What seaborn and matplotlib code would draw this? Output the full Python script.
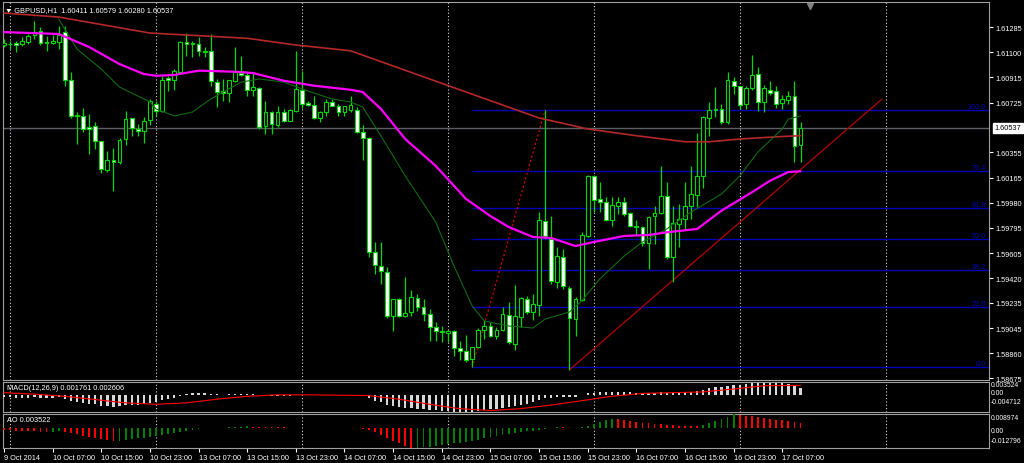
import numpy as np
import seaborn as sns
import matplotlib.pyplot as plt

# ================= data (GBPUSD H1) =================
opens = [1.61154, 1.61161, 1.61169, 1.61161, 1.61178, 1.61228, 1.61256, 1.61178, 1.61166, 1.61178,
         1.61248, 1.60896, 1.60623, 1.60628, 1.60541, 1.60549, 1.60439, 1.60226, 1.60298, 1.60281,
         1.60454, 1.60611, 1.60529, 1.60512, 1.60594, 1.60712, 1.60660, 1.60906, 1.60896, 1.60955,
         1.61174, 1.61159, 1.61161, 1.61107, 1.61111, 1.60881, 1.60811, 1.60797, 1.60884, 1.60945,
         1.60930, 1.60821, 1.60834, 1.60549, 1.60653, 1.60561, 1.60653, 1.60591, 1.60665, 1.60821,
         1.60720, 1.60707, 1.60611, 1.60653, 1.60732, 1.60702, 1.60657, 1.60670, 1.60672, 1.60509,
         1.60460, 1.59616, 1.59512, 1.59467, 1.59135, 1.59264, 1.59140, 1.59170, 1.59269, 1.59202,
         1.59152, 1.59053, 1.59028, 1.59011, 1.59028, 1.58897, 1.58879, 1.58818, 1.58905, 1.59036,
         1.59065, 1.58991, 1.59036, 1.59145, 1.58929, 1.59128, 1.59264, 1.59165, 1.59219, 1.59846,
         1.59710, 1.59393, 1.59574, 1.59348, 1.59115, 1.59259, 1.59735, 1.60181, 1.60008, 1.59988,
         1.59854, 1.59958, 1.59983, 1.59901, 1.59809, 1.59797, 1.59681, 1.59879, 1.59904, 1.60028,
         1.59574, 1.59822, 1.59859, 1.59958, 1.60040, 1.60177, 1.60611, 1.60670, 1.60678, 1.60583,
         1.60888, 1.60846, 1.60715, 1.60832, 1.60938, 1.60732, 1.60821, 1.60809, 1.60722, 1.60747,
         1.60772, 1.60411]
highs = [1.61198, 1.61186, 1.61186, 1.61211, 1.61236, 1.61335, 1.61285, 1.61223, 1.61228, 1.61297,
         1.61297, 1.60955, 1.60653, 1.60683, 1.60640, 1.60583, 1.60439, 1.60367, 1.60385, 1.60460,
         1.60660, 1.60613, 1.60566, 1.60616, 1.60752, 1.60739, 1.60921, 1.60925, 1.60975, 1.61186,
         1.61243, 1.61186, 1.61211, 1.61137, 1.61236, 1.60901, 1.60901, 1.60893, 1.61141, 1.61074,
         1.60951, 1.60955, 1.60839, 1.60739, 1.60665, 1.60698, 1.60678, 1.60678, 1.61111, 1.60963,
         1.60739, 1.60777, 1.60665, 1.60752, 1.60752, 1.60715, 1.60702, 1.60777, 1.60690, 1.60559,
         1.60467, 1.59686, 1.59686, 1.59500, 1.59264, 1.59269, 1.59425, 1.59333, 1.59301, 1.59264,
         1.59190, 1.59095, 1.59065, 1.59036, 1.59036, 1.58954, 1.58996, 1.58905, 1.59046, 1.59110,
         1.59090, 1.59053, 1.59202, 1.59239, 1.59368, 1.59277, 1.59284, 1.59301, 1.59909, 1.60672,
         1.59879, 1.59649, 1.59636, 1.59363, 1.59277, 1.59760, 1.60189, 1.60187, 1.60137, 1.60021,
         1.60021, 1.60021, 1.60021, 1.59913, 1.59854, 1.59809, 1.59884, 1.59958, 1.60251, 1.60132,
         1.59958, 1.59971, 1.60132, 1.60256, 1.60499, 1.60628, 1.60732, 1.60839, 1.60715, 1.60951,
         1.60913, 1.60851, 1.60851, 1.61079, 1.60988, 1.60856, 1.60888, 1.60851, 1.60782, 1.60814,
         1.60888, 1.60579]
lows = [1.61137, 1.61124, 1.61099, 1.61149, 1.61161, 1.61198, 1.61154, 1.61111, 1.61161, 1.61124,
        1.60851, 1.60608, 1.60415, 1.60504, 1.60343, 1.60380, 1.60201, 1.60207, 1.60065, 1.60268,
        1.60410, 1.60475, 1.60479, 1.60425, 1.60559, 1.60628, 1.60653, 1.60814, 1.60821, 1.60951,
        1.61074, 1.61062, 1.61074, 1.61062, 1.60851, 1.60690, 1.60739, 1.60732, 1.60876, 1.60921,
        1.60772, 1.60772, 1.60529, 1.60492, 1.60492, 1.60541, 1.60583, 1.60586, 1.60653, 1.60683,
        1.60702, 1.60603, 1.60583, 1.60628, 1.60698, 1.60628, 1.60623, 1.60653, 1.60499, 1.60300,
        1.59574, 1.59450, 1.59376, 1.59120, 1.59028, 1.59128, 1.59128, 1.59140, 1.59177, 1.59103,
        1.58954, 1.58954, 1.58946, 1.58942, 1.58842, 1.58812, 1.58798, 1.58755, 1.58897, 1.58966,
        1.58979, 1.58966, 1.59028, 1.58929, 1.58887, 1.59053, 1.59152, 1.59110, 1.59135, 1.59710,
        1.59376, 1.59344, 1.59338, 1.58736, 1.58991, 1.59251, 1.59723, 1.59914, 1.59914, 1.59846,
        1.59809, 1.59896, 1.59884, 1.59797, 1.59740, 1.59661, 1.59487, 1.59673, 1.59896, 1.59562,
        1.59393, 1.59649, 1.59785, 1.59859, 1.59946, 1.60087, 1.60479, 1.60616, 1.60566, 1.60566,
        1.60789, 1.60678, 1.60678, 1.60821, 1.60665, 1.60658, 1.60782, 1.60683, 1.60678, 1.60715,
        1.60281, 1.60280]
closes = [1.61169, 1.61158, 1.61154, 1.61186, 1.61223, 1.61253, 1.61169, 1.61169, 1.61186, 1.61228,
          1.60896, 1.60628, 1.60635, 1.60529, 1.60529, 1.60442, 1.60231, 1.60298, 1.60281, 1.60449,
          1.60603, 1.60534, 1.60514, 1.60591, 1.60739, 1.60665, 1.60893, 1.60896, 1.60958, 1.61174,
          1.61163, 1.61169, 1.61107, 1.61099, 1.60884, 1.60806, 1.60797, 1.60893, 1.60955, 1.60930,
          1.60821, 1.60839, 1.60541, 1.60653, 1.60566, 1.60653, 1.60591, 1.60672, 1.60826, 1.60715,
          1.60707, 1.60611, 1.60653, 1.60732, 1.60702, 1.60653, 1.60698, 1.60707, 1.60504, 1.60460,
          1.59616, 1.59519, 1.59474, 1.59140, 1.59264, 1.59140, 1.59160, 1.59277, 1.59202, 1.59152,
          1.59053, 1.59023, 1.59016, 1.59028, 1.58897, 1.58877, 1.58812, 1.58905, 1.59036, 1.59065,
          1.58991, 1.59036, 1.59150, 1.58942, 1.59135, 1.59269, 1.59165, 1.59225, 1.59854, 1.59735,
          1.59400, 1.59582, 1.59358, 1.59120, 1.59264, 1.59740, 1.60177, 1.60003, 1.59988, 1.59854,
          1.59963, 1.59983, 1.59896, 1.59809, 1.59797, 1.59681, 1.59872, 1.59904, 1.60028, 1.59574,
          1.59827, 1.59859, 1.59958, 1.60045, 1.60181, 1.60616, 1.60670, 1.60678, 1.60583, 1.60896,
          1.60846, 1.60710, 1.60832, 1.60931, 1.60732, 1.60832, 1.60794, 1.60715, 1.60752, 1.60772,
          1.60400, 1.60537]

# moving averages, read at some bars
ma_red_bar = [0, 9, 24, 40, 48, 57, 70, 76, 88, 96, 104, 112, 116, 121, 127, 131]
ma_red = [1.61392, 1.61362, 1.61243, 1.61204, 1.61154, 1.61111, 1.60901, 1.60804, 1.60611, 1.60529,
          1.60479, 1.60434, 1.60434, 1.60454, 1.60471, 1.60479]
ma_mag_bar = [0, 9, 14, 19, 23, 25, 28, 32, 38, 41, 46, 51, 57, 59, 62, 66, 71, 76, 80, 83, 87, 90,
              94, 97, 102, 106, 109, 114, 118, 123, 126, 129, 131]
ma_mag = [1.61250, 1.61236, 1.61139, 1.61012, 1.60938, 1.60925, 1.60931, 1.60963, 1.60955, 1.60945,
          1.60888, 1.60851, 1.60821, 1.60804, 1.60678, 1.60454, 1.60254, 1.60008, 1.59881, 1.59800,
          1.59725, 1.59718, 1.59658, 1.59688, 1.59733, 1.59740, 1.59760, 1.59785, 1.59921, 1.60058,
          1.60144, 1.60209, 1.60214]
ma_grn_bar = [9, 12, 16, 19, 24, 25, 28, 31, 34, 39, 42, 46, 50, 54, 57, 59, 62, 66, 71, 74, 77, 79,
              83, 87, 89, 93, 95, 98, 102, 105, 109, 113, 118, 121, 124, 128, 129, 131]
ma_grn = [1.61347, 1.61124, 1.60975, 1.60841, 1.60730, 1.60678, 1.60626, 1.60655, 1.60752, 1.60878,
          1.60901, 1.60878, 1.60811, 1.60752, 1.60730, 1.60692, 1.60477, 1.60179, 1.59837, 1.59510,
          1.59212, 1.59100, 1.59063, 1.59048, 1.59115, 1.59167, 1.59249, 1.59413, 1.59584, 1.59688,
          1.59785, 1.59911, 1.60045, 1.60179, 1.60358, 1.60529, 1.60603, 1.60626]

# MACD(12,26,9): main line drawn as histogram, signal as line
macd_main = [-0.0006, -0.0007, -0.0008, -0.0008, -0.0008, -0.0007, -0.0008, -0.0008, -0.0008, -0.0007,
             -0.0011, -0.0016, -0.0019, -0.0022, -0.0024, -0.0026, -0.0030, -0.0031, -0.0033, -0.0032,
             -0.0029, -0.0028, -0.0027, -0.0025, -0.0022, -0.0020, -0.0015, -0.0012, -0.0008, -0.0002,
             0.0002, 0.0004, 0.0005, 0.0005, 0.0003, 0.0001, 0.0000, 0.0001, 0.0002, 0.0003,
             0.0002, 0.0002, 0.0000, -0.0001, -0.0002, -0.0002, -0.0002, -0.0002, 0.0000, 0.0000,
             0.0000, -0.0001, -0.0001, -0.0001, -0.0001, -0.0001, -0.0001, -0.0001, -0.0002, -0.0004,
             -0.0010, -0.0016, -0.0021, -0.0027, -0.0030, -0.0033, -0.0035, -0.0036, -0.0038, -0.0039,
             -0.0041, -0.0043, -0.0044, -0.0045, -0.0046, -0.0047, -0.0047, -0.0046, -0.0044, -0.0042,
             -0.0040, -0.0038, -0.0035, -0.0034, -0.0031, -0.0027, -0.0024, -0.0021, -0.0013, -0.0008,
             -0.0008, -0.0006, -0.0006, -0.0007, -0.0005, -0.0001, 0.0004, 0.0006, 0.0007, 0.0007,
             0.0008, 0.0008, 0.0008, 0.0007, 0.0006, 0.0005, 0.0006, 0.0006, 0.0008, 0.0005,
             0.0005, 0.0006, 0.0007, 0.0008, 0.0010, 0.0014, 0.0018, 0.0021, 0.0021, 0.0025,
             0.0028, 0.0028, 0.0030, 0.0033, 0.0032, 0.0033, 0.0033, 0.0032, 0.0032, 0.0031,
             0.0024, 0.001761]
macd_sig_bar = [0, 5, 10, 15, 20, 25, 30, 35, 40, 45, 50, 55, 60, 65, 70, 75, 80, 85, 90, 95, 100,
                105, 110, 115, 120, 125, 131]
macd_sig = [0.0006, 0.0002, -0.0004, -0.0013, -0.0022, -0.0026, -0.0022, -0.0012, -0.0004, 0.0000,
            0.0000, -0.0001, -0.0002, -0.0012, -0.0026, -0.0038, -0.0043, -0.0038, -0.0028, -0.0016,
            -0.0004, 0.0004, 0.0006, 0.0008, 0.0016, 0.0025, 0.002606]

# Awesome Oscillator
ao = [-0.0012, -0.0014, -0.0016, -0.0018, -0.0020, -0.0022, -0.0024, -0.0026, -0.0024, -0.0022,
      -0.0025, -0.0032, -0.0040, -0.0048, -0.0056, -0.0064, -0.0072, -0.0078, -0.0084, -0.0080,
      -0.0076, -0.0071, -0.0066, -0.0061, -0.0056, -0.0050, -0.0044, -0.0038, -0.0031, -0.0024,
      -0.0017, -0.0011, -0.0006, -0.0003, -0.0001, 0.0001, 0.0003, 0.0005, 0.0007, 0.0009,
      0.0010, 0.0009, 0.0008, 0.0007, 0.0006, 0.0005, 0.0004, 0.0003, 0.0002, 0.0001,
      0.0000, -0.0001, -0.0002, -0.0003, -0.0003, -0.0002, -0.0002, -0.0002, -0.0003, -0.0006,
      -0.0012, -0.0025, -0.0042, -0.0062, -0.0080, -0.0097, -0.0113, -0.012796, -0.0126, -0.0123,
      -0.0119, -0.0114, -0.0109, -0.0104, -0.0098, -0.0093, -0.0087, -0.0081, -0.0074, -0.0067,
      -0.0060, -0.0053, -0.0046, -0.0040, -0.0034, -0.0028, -0.0022, -0.0017, -0.0012, -0.0008,
      0.0003, 0.0006, 0.0004, 0.0003, 0.0002, 0.0006, 0.0015, 0.0028, 0.0040, 0.0050,
      0.0058, 0.0055, 0.0050, 0.0045, 0.0040, 0.0035, 0.0030, 0.0026, 0.0023, 0.0020,
      0.0018, 0.0016, 0.0015, 0.0014, 0.0013, 0.0022, 0.0035, 0.0048, 0.0060, 0.0072,
      0.008974, 0.0086, 0.0080, 0.0075, 0.0070, 0.0065, 0.0060, 0.0054, 0.0049, 0.0044,
      0.0040, 0.003522]

fib_labels = ['0.0', '23.6', '38.2', '50.0', '61.8', '76.4', '100.0']
fib_levels = [1.58755, 1.59202, 1.59482, 1.59710, 1.59939, 1.60214, 1.60672]
fib_start_bar = 77
fib_swing = ([77, 89], [1.58755, 1.60672])
trend_line = ([93, 144.4], [1.58736, 1.60752])

price_ticks = [1.61285, 1.61100, 1.60915, 1.60725, 1.60355, 1.60165, 1.59980, 1.59795,
               1.59605, 1.59420, 1.59235, 1.59045, 1.58860, 1.58675]
bid = 1.60537
time_ticks = [0, 8, 16, 24, 32, 40, 48, 56, 64, 72, 80, 88, 96, 104, 112, 120, 128]
time_labels = ['9 Oct 2014', '10 Oct 07:00', '10 Oct 15:00', '10 Oct 23:00', '13 Oct 07:00',
               '13 Oct 15:00', '13 Oct 23:00', '14 Oct 07:00', '14 Oct 15:00', '14 Oct 23:00',
               '15 Oct 07:00', '15 Oct 15:00', '15 Oct 23:00', '16 Oct 07:00', '16 Oct 15:00',
               '16 Oct 23:00', '17 Oct 07:00']
day_breaks = [1, 25, 49, 73, 97, 121, 145]

# ================= style =================
sns.set_theme(style='dark')
plt.rcParams['font.family'] = ['Liberation Sans', 'DejaVu Sans']
FS = 5.3
LIME = '#00d800'
FRAME = '#a0a0a0'
BLUE = '#0000b4'

W, H = 1024, 464


def rect(x0, y0, x1, y1):
    return [x0 / W, 1 - y1 / H, (x1 - x0) / W, (y1 - y0) / H]


fig = plt.figure(figsize=(W / 100, H / 100), dpi=100, facecolor='black')
ax = fig.add_axes(rect(3, 3, 989, 381))
ax_macd = fig.add_axes(rect(3, 383, 989, 413), sharex=ax)
ax_ao = fig.add_axes(rect(3, 415, 989, 449), sharex=ax)

for a in (ax, ax_macd, ax_ao):
    a.set_facecolor('black')
    a.grid(False)
    for s in a.spines.values():
        s.set_color(FRAME)
        s.set_linewidth(0.8)
    for d in day_breaks:
        a.axvline(d, color='#d8d8d8', lw=0.8, ls=(0, (1, 2)), zorder=1)

ax.set_xlim(-0.164, 162.0)

# ---------------- main price panel ----------------
n = len(opens)
bars = np.arange(n)
o = np.array(opens)
c = np.array(closes)

ax.axhline(bid, color='#5c6066', lw=1.0, zorder=1)
ax.hlines(fib_levels, fib_start_bar, 162.0, color=BLUE, lw=1.0, zorder=2)
for lab, lev in zip(fib_labels, fib_levels):
    ax.text(0.997, lev, lab, transform=ax.get_yaxis_transform(), ha='right', va='bottom',
            color=BLUE, fontsize=FS)
ax.plot(*fib_swing, color='#e00000', lw=0.8, ls=(0, (2, 2)), zorder=2)
ax.plot(*trend_line, color='#b40000', lw=0.9, zorder=2)

ax.vlines(bars, lows, highs, color=LIME, lw=0.9, zorder=3)
body_face = np.where(c >= o, 'black', 'white')
ax.bar(bars, np.abs(c - o), bottom=np.minimum(o, c), width=0.62, color=body_face,
       edgecolor=LIME, linewidth=0.8, zorder=4)

sns.lineplot(x=ma_red_bar, y=ma_red, ax=ax, color='#b4282a', lw=1.2, zorder=5)
sns.lineplot(x=ma_grn_bar, y=ma_grn, ax=ax, color='#106a10', lw=0.8, zorder=5)
sns.lineplot(x=ma_mag_bar, y=ma_mag, ax=ax, color='#ff00ff', lw=1.6, zorder=6)

ax.set_ylim(1.58661, 1.61474)
ax.yaxis.tick_right()
ax.set_yticks(price_ticks)
ax.set_yticklabels([f'{v:.5f}' for v in price_ticks])
ax.tick_params(axis='y', colors='white', labelsize=FS, length=3, width=0.8, pad=1.5,
               direction='out', right=True, left=False)
ax.tick_params(axis='x', bottom=False, labelbottom=False)
ax.set_xlabel('')
ax.set_ylabel('')
ax.annotate(f'{bid:.5f}', xy=(1.0, bid), xycoords=('axes fraction', 'data'), xytext=(4, 0),
            textcoords='offset points', ha='left', va='center', fontsize=FS, color='black',
            bbox=dict(boxstyle='square,pad=0.2', fc='white', ec='white'))
ax.text(0.002, 0.988,
        f'\u25bc GBPUSD,H1  {opens[-1]:.5f} {highs[-1]:.5f} {lows[-1]:.5f} {closes[-1]:.5f}',
        transform=ax.transAxes, ha='left', va='top', color='white', fontsize=FS)
ax.plot([132.6], [0.99], marker='v', color='#808080', ms=4, transform=ax.get_xaxis_transform(),
        clip_on=False)

# ---------------- MACD panel ----------------
ax_macd.bar(bars, macd_main, width=0.38, color='#d8d8d8', linewidth=0, zorder=3)
sns.lineplot(x=macd_sig_bar, y=macd_sig, ax=ax_macd, color='#ff0000', lw=0.8, zorder=4)
ax_macd.set_ylim(-0.004712, 0.003524)
ax_macd.set_yticks([])
ax_macd.tick_params(axis='x', bottom=False, labelbottom=False)
ax_macd.set_xlabel('')
ax_macd.set_ylabel('')
ax_macd.text(0.004, 0.93, f'MACD(12,26,9) {macd_main[-1]:.6f} {macd_sig[-1]:.6f}',
             transform=ax_macd.transAxes, ha='left', va='top', color='white', fontsize=FS)
for frac, lab in [(0.92, '0.003524'), (0.657, '0.00'), (0.343, '-0.004712')]:
    ax_macd.text(1.002, frac, lab, transform=ax_macd.transAxes, ha='left', va='center',
                 color='white', fontsize=4.9)

# ---------------- AO panel ----------------
ao_arr = np.array(ao)
ao_col = ['#ff0000'] + ['#008000' if ao_arr[i] > ao_arr[i - 1] else '#ff0000' for i in range(1, n)]
ax_ao.bar(bars, ao, width=0.3, color=ao_col, linewidth=0, zorder=3)
ax_ao.set_ylim(-0.012796, 0.008974)
ax_ao.set_yticks([])
ax_ao.set_ylabel('')
ax_ao.text(0.004, 0.93, f'AO {ao[-1]:.6f}', transform=ax_ao.transAxes, ha='left', va='top',
           color='white', fontsize=FS)
for frac, lab in [(0.903, '0.008974'), (0.529, '0.00'), (0.215, '-0.012796')]:
    ax_ao.text(1.002, frac, lab, transform=ax_ao.transAxes, ha='left', va='center',
               color='white', fontsize=4.9)

ax_ao.set_xticks(time_ticks)
ax_ao.set_xticklabels(time_labels, ha='left')
ax_ao.tick_params(axis='x', colors='white', labelsize=FS, length=3, width=0.8, pad=1.5,
                  direction='out', bottom=True)
ax_ao.set_xlabel('')

fig.savefig('out.png', dpi=100, facecolor='black')
